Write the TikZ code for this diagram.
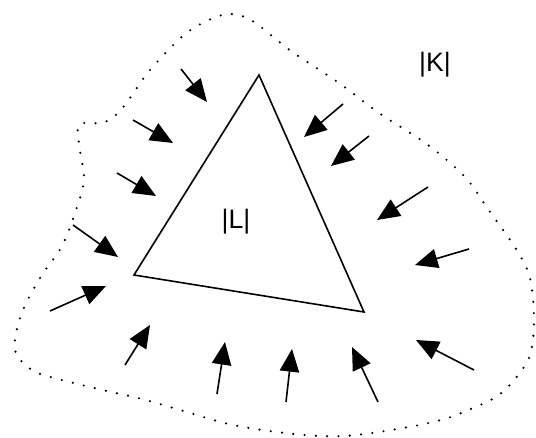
\documentclass[tikz,border=0pt]{standalone}
\usepackage{fontspec}
\setmainfont{Liberation Sans}
\usetikzlibrary{arrows.meta}
\begin{document}
\begin{tikzpicture}[x=0.75pt,y=-0.75pt,
  edge/.style={line width=1.2pt,line join=miter},
  arr/.style={line width=1.2pt,-{Triangle[length=17pt,width=14.5pt]}},
  bdry/.style={line width=1.8pt,line cap=round,dash pattern=on 0pt off 8.5pt},
  lbl/.style={font=\fontsize{20}{24}\selectfont,inner sep=0pt}]
\useasboundingbox (0,0) rectangle (536,438);
% boundary of |K|
\draw[bdry] plot[smooth cycle,tension=0.55] coordinates {
 (125,105) (150,70) (184,35) (211,19) (232,14) (254,22) (291,51) (339,83) (379,113)
 (428,145) (465,177) (488,209) (516,249) (530,278) (534,320) (530,355)
 (515,379) (496,397) (466,411) (441,420) (403,428) (345,436) (294,434)
 (233,425) (187,412) (142,399) (107,391) (58,379) (32,370) (15,350)
 (21,315) (40,278) (62,246) (76,210) (84,180) (80,150) (79,125) (101,123) (112,118)};
% triangle |L|
\coordinate (A) at (259,75);
\coordinate (B) at (134,275);
\coordinate (C) at (364,312);
\draw[edge] (A) -- (B) -- (C) -- cycle;
\node[lbl] (L) at (236,222) {|L|};
\node[lbl] (K) at (435,65) {|K|};
% arrows
\draw[arr] (181,69) coordinate (t1) -- (207,102) coordinate (h1);
\draw[arr] (133,120) coordinate (t2) -- (173,143) coordinate (h2);
\draw[arr] (117,173) coordinate (t3) -- (156,196) coordinate (h3);
\draw[arr] (73,225) coordinate (t4) -- (118,257) coordinate (h4);
\draw[arr] (50,311) coordinate (t5) -- (106,286) coordinate (h5);
\draw[arr] (125,365) coordinate (t6) -- (150,325) coordinate (h6);
\draw[arr] (217,394) coordinate (t7) -- (225,342) coordinate (h7);
\draw[arr] (286,402) coordinate (t8) -- (292,349) coordinate (h8);
\draw[arr] (378,402) coordinate (t9) -- (352,347) coordinate (h9);
\draw[arr] (474,370) coordinate (t10) -- (416,340) coordinate (h10);
\draw[arr] (469,249) coordinate (t11) -- (415,265) coordinate (h11);
\draw[arr] (428,187) coordinate (t12) -- (377,220) coordinate (h12);
\draw[arr] (369,136) coordinate (t13) -- (331,166) coordinate (h13);
\draw[arr] (343,104) coordinate (t14) -- (304,137) coordinate (h14);
\end{tikzpicture}
\end{document}
